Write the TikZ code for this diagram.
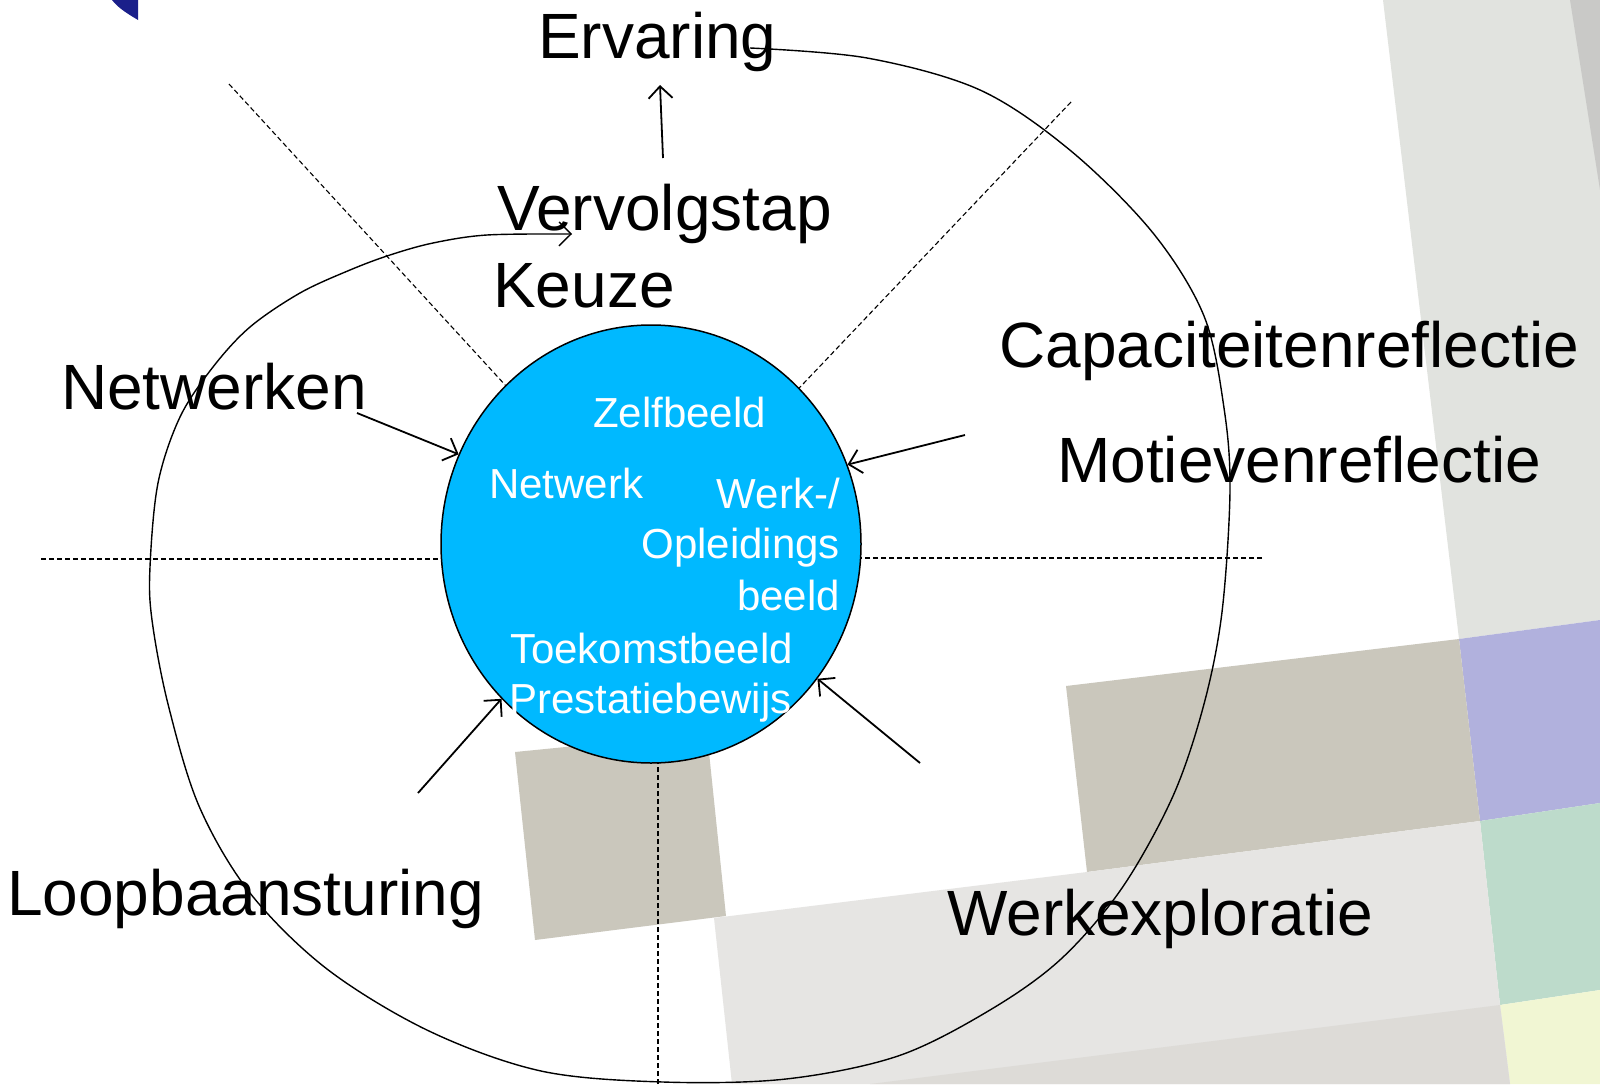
\documentclass[tikz,border=0pt]{standalone}
\usepackage{fontspec}
\setmainfont{Liberation Sans}
\usetikzlibrary{arrows.meta,shapes.geometric}
\definecolor{navy}{HTML}{1A1F8A}
\definecolor{tan}{HTML}{CAC7BC}
\definecolor{lgray}{HTML}{E6E5E3}
\definecolor{trgray}{HTML}{E1E3DF}
\definecolor{dgray}{HTML}{C9C9C7}
\definecolor{purp}{HTML}{B1B1DD}
\definecolor{grn}{HTML}{BDDBCB}
\definecolor{yel}{HTML}{F1F6D3}
\definecolor{bband}{HTML}{DDDBD7}
\definecolor{skyblue}{HTML}{00B9FF}
\begin{document}
\begin{tikzpicture}[x=1pt,y=-1pt,
  big/.style={font=\fontsize{64}{70}\selectfont, inner sep=0pt, anchor=base west},
  inner/.style={font=\fontsize{42}{48}\selectfont, text=white, inner sep=0pt, anchor=base west},
  innerr/.style={inner, anchor=base east},
  dashline/.style={line width=1.1pt, dash pattern=on 5pt off 3pt},
  arr/.style={line width=1.8pt, -{Straight Barb[length=12pt,width=24pt]}},
  loop/.style={line width=1.4pt, -{Straight Barb[length=12pt,width=24pt]}}]
\useasboundingbox (0,0) rectangle (1600,1084);
% background shapes
\fill[white] (0,0) rectangle (1600,1084);
\fill[navy] (112,0) -- (138,0) -- (138,20) .. controls (128,14) and (118,8) .. (112,0);
\fill[trgray] (1383,0) -- (1600,0) -- (1600,620) -- (1459,639) -- cycle;
\fill[dgray] (1570,0) -- (1600,0) -- (1600,190) -- cycle;
\fill[purp] (1459,639) -- (1600,620) -- (1600,803) -- (1480,821) -- cycle;
\fill[grn] (1480,821) -- (1600,803) -- (1600,990) -- (1500,1005) -- cycle;
\fill[yel] (1500,1005) -- (1600,990) -- (1600,1084) -- (1510,1084) -- cycle;
\fill[tan] (1066,686) -- (1459,639) -- (1480,821) -- (1087,872) -- cycle;
\fill[lgray] (714,918) -- (1087,872) -- (1480,821) -- (1500,1005) -- (1510,1084) -- (732,1084) -- cycle;
\fill[bband] (870,1084) -- (1500,1005) -- (1510,1084) -- cycle;
\fill[tan] (515,752) -- (707,733) -- (726,916) -- (535,940) -- cycle;
% centre and dashed lines
\coordinate (cc) at (651,544);
\coordinate (dul) at (229,84);
\coordinate (dur) at (1071,102);
\coordinate (dl) at (41,559);
\coordinate (dr) at (1262,558);
\coordinate (db) at (658,1084);
\draw[dashline] (dul) -- (cc);
\draw[dashline] (dur) -- (cc);
\draw[dashline] (dl) -- (dl -| cc);
\draw[dashline] (dr) -- (dr -| cc);
\draw[dashline] (db) -- (db |- cc);
% circle
\node[ellipse, draw, line width=1.5pt, fill=skyblue, minimum width=420pt, minimum height=438pt, inner sep=0pt] (circ) at (cc) {};
% texts
\node[big] (erv) at (538,58) {Ervaring};
\node[big] (verv) at (497,230) {Vervolgstap};
\node[big] (keuze) at (493,307) {Keuze};
\node[big] (netw) at (61,409) {Netwerken};
\node[big] (cap) at (999,367) {Capaciteitenreflectie};
\node[big] (mot) at (1057,482) {Motievenreflectie};
\node[big] (loop) at (7,915) {Loopbaansturing};
\node[big] (werk) at (947,935) {Werkexploratie};
\node[inner] (zelf) at (593,427) {Zelfbeeld};
\node[inner] (netwk) at (489,498) {Netwerk};
\node[innerr] (wo1) at (840,508) {Werk-/};
\node[innerr] (wo2) at (840,558) {Opleidings};
\node[innerr] (wo3) at (840,610) {beeld};
\node[inner] (toek) at (510,663) {Toekomstbeeld};
\node[inner] (prest) at (509,713) {Prestatiebewijs};
% loop curve
\coordinate (ls) at (750,48);
\coordinate (le) at (572,234);
\draw[loop] plot[smooth, tension=0.55] coordinates {(ls) (867,58) (980,90) (1071,151) (1153,233) (1204,316) (1224,408) (1230,490) (1222,612) (1204,704) (1173,796) (1122,888) (1061,959) (990,1010) (898,1056) (786,1079) (663,1082) (541,1071) (429,1031) (327,969) (250,893) (199,806) (168,704) (152,620) (150,567) (158,483) (180,417) (213,367) (250,327) (300,293) (350,270) (390,255) (433,243) (487,235) (le)};
% arrows
\coordinate (aerv) at (663,158);
\coordinate (aervt) at (660,85);
\draw[arr] (aerv) -- (aervt);
\coordinate (anet) at (357,413);
\coordinate (acap) at (965,435);
\coordinate (abl) at (418,793);
\coordinate (abr) at (920,763);
\draw[arr] (anet) -- (circ.155);
\draw[arr] (acap) -- (circ.22);
\draw[arr] (abl) -- (circ.226);
\draw[arr] (abr) -- (circ.321);
\end{tikzpicture}
\end{document}
